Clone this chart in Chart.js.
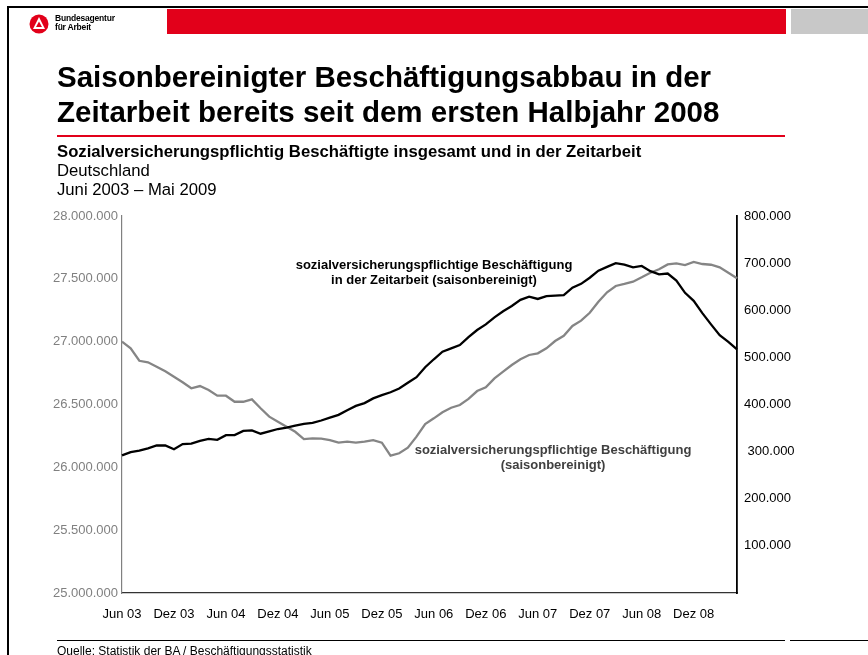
<!DOCTYPE html>
<html>
<head>
<meta charset="utf-8">
<script src="https://cdn.jsdelivr.net/npm/chart.js@4.4.1/dist/chart.umd.min.js"></script>
<style>
html,body{margin:0;padding:0;background:#fff;}
body{width:868px;height:655px;position:relative;overflow:hidden;font-family:"Liberation Sans",Arial,Helvetica,sans-serif;color:#000;}
.abs{position:absolute;white-space:nowrap;}
#c{position:absolute;left:0;top:0;}
.ann{position:absolute;width:420px;text-align:center;font-weight:bold;font-size:13px;line-height:14.5px;white-space:nowrap;}
</style>
</head>
<body>
<canvas id="c" width="868" height="655"></canvas>

<!-- frame and header -->
<div class="abs" style="left:7px;top:6px;width:861px;height:2px;background:#000"></div>
<div class="abs" style="left:7px;top:6px;width:2px;height:649px;background:#000"></div>
<div class="abs" style="left:167px;top:9px;width:619px;height:25px;background:#e2001a"></div>
<div class="abs" style="left:791px;top:9px;width:77px;height:25px;background:#c8c8c8"></div>
<svg class="abs" style="left:29px;top:14px" width="20" height="20" viewBox="0 0 20 20">
  <circle cx="10" cy="10" r="9.5" fill="#e2001a"/>
  <polygon points="10,3 16,15 4,15" fill="#fff"/>
  <polygon points="10,7.5 13,13 7,13" fill="#e2001a"/>
</svg>
<div class="abs" style="left:55px;top:14px;font-family:'Liberation Sans Narrow','Liberation Sans',Arial,sans-serif;font-weight:bold;font-size:8.5px;line-height:9px;letter-spacing:-0.2px">Bundesagentur<br>für Arbeit</div>

<!-- title -->
<div class="abs" style="left:57px;top:59px;font-weight:bold;font-size:29.5px;line-height:35px">Saisonbereinigter Beschäftigungsabbau in der<br>Zeitarbeit bereits seit dem ersten Halbjahr 2008</div>
<div class="abs" style="left:57px;top:135px;width:728px;height:1.5px;background:#e2001a"></div>
<div class="abs" style="left:57px;top:142px;font-size:16.7px;line-height:19px"><b>Sozialversicherungspflichtig Beschäftigte insgesamt und in der Zeitarbeit</b><br>Deutschland<br>Juni 2003 – Mai 2009</div>

<!-- annotations -->
<div class="ann" style="left:224px;top:258px;color:#000">sozialversicherungspflichtige Beschäftigung<br>in der Zeitarbeit (saisonbereinigt)</div>
<div class="ann" style="left:343px;top:443px;color:#404040">sozialversicherungspflichtige Beschäftigung<br>(saisonbereinigt)</div>

<!-- footer -->
<div class="abs" style="left:57px;top:640px;width:728px;height:1px;background:#000"></div>
<div class="abs" style="left:790px;top:640px;width:78px;height:1px;background:#000"></div>
<div class="abs" style="left:57px;top:644px;font-size:12px;line-height:14px">Quelle: Statistik der BA / Beschäftigungsstatistik</div>

<script>
// ---- data ----
const months = [
 "Jun 03","Jul 03","Aug 03","Sep 03","Okt 03","Nov 03","Dez 03","Jan 04","Feb 04","Mär 04","Apr 04","Mai 04",
 "Jun 04","Jul 04","Aug 04","Sep 04","Okt 04","Nov 04","Dez 04","Jan 05","Feb 05","Mär 05","Apr 05","Mai 05",
 "Jun 05","Jul 05","Aug 05","Sep 05","Okt 05","Nov 05","Dez 05","Jan 06","Feb 06","Mär 06","Apr 06","Mai 06",
 "Jun 06","Jul 06","Aug 06","Sep 06","Okt 06","Nov 06","Dez 06","Jan 07","Feb 07","Mär 07","Apr 07","Mai 07",
 "Jun 07","Jul 07","Aug 07","Sep 07","Okt 07","Nov 07","Dez 07","Jan 08","Feb 08","Mär 08","Apr 08","Mai 08",
 "Jun 08","Jul 08","Aug 08","Sep 08","Okt 08","Nov 08","Dez 08","Jan 09","Feb 09","Mär 09","Apr 09","Mai 09"
];
const zeitarbeit = [
 292000,299000,302000,307000,313000,313000,305000,316000,317000,323000,327000,325000,
 335000,335000,344000,345000,338000,343000,348000,351000,355000,359000,361000,366000,
 372000,378000,388000,397000,403000,413000,420000,426000,434000,446000,458000,479000,
 496000,512000,519000,526000,543000,558000,570000,585000,598000,609000,622000,629000,
 624000,630000,631000,632000,648000,656000,669000,684000,692000,700000,697000,691000,
 694000,683000,676000,678000,663000,637000,620000,594000,570000,547000,533000,517000
];
const insgesamt = [
 27000000,26947000,26848000,26836000,26801000,26764000,26721000,26677000,26629000,26647000,26615000,26570000,
 26570000,26522000,26522000,26541000,26470000,26403000,26363000,26323000,26283000,26225000,26231000,26228000,
 26217000,26196000,26204000,26196000,26204000,26217000,26196000,26093000,26112000,26156000,26244000,26345000,
 26390000,26438000,26474000,26496000,26544000,26607000,26637000,26708000,26761000,26814000,26860000,26894000,
 26907000,26947000,27005000,27047000,27125000,27167000,27230000,27318000,27393000,27443000,27459000,27477000,
 27512000,27549000,27576000,27615000,27623000,27610000,27634000,27618000,27612000,27592000,27549000,27504000
];
const leftTicks = [25000000,25500000,26000000,26500000,27000000,27500000,28000000];
const rightTicks = [0,100000,200000,300000,400000,500000,600000,700000,800000];

function de(n){ return String(Math.round(n)).replace(/\B(?=(\d{3})+(?!\d))/g,'.'); }

const FONT = {family:"'Liberation Sans', Arial, sans-serif", size:13};

new Chart(document.getElementById('c'), {
  type:'line',
  data:{
    labels: months,
    datasets:[
      {label:'Zeitarbeit', data:zeitarbeit, yAxisID:'y1', borderColor:'#000', borderWidth:2.3, pointRadius:0, tension:0, fill:false},
      {label:'insgesamt', data:insgesamt, yAxisID:'y', borderColor:'#858585', borderWidth:2.3, pointRadius:0, tension:0, fill:false}
    ]
  },
  options:{
    responsive:false, animation:false, devicePixelRatio:1,
    layout:{padding:{top:216,left:0,right:0,bottom:0}},
    plugins:{legend:{display:false}, tooltip:{enabled:false}, title:{display:false}},
    scales:{
      x:{
        type:'category', offset:false,
        grid:{display:false, drawTicks:false},
        border:{display:true, color:'#333', width:1.2},
        ticks:{autoSkip:false, maxRotation:0, minRotation:0, color:'#000', font:FONT, padding:14,
          callback:function(v, i){ return (i % 6 === 0) ? months[i] : ''; }},
        afterFit:function(s){ s.height = 62; }
      },
      y:{
        position:'left', min:leftTicks[0], max:leftTicks[leftTicks.length-1],
        afterBuildTicks:function(s){ s.ticks = leftTicks.map(v=>({value:v})); },
        grid:{display:false, drawTicks:false},
        border:{display:true, color:'#808080', width:1.2},
        ticks:{color:'#808080', font:FONT, padding:4, callback:function(v){ return de(v); }},
        afterFit:function(s){ s.width = 122; }
      },
      y1:{
        position:'right', min:rightTicks[0], max:rightTicks[rightTicks.length-1],
        afterBuildTicks:function(s){ s.ticks = rightTicks.map(v=>({value:v})); },
        grid:{display:false, drawTicks:false},
        border:{display:true, color:'#000', width:1.8},
        ticks:{color:'#000', font:FONT, padding:7, callback:function(v){
          if (v === 0) return '';
          if (v === 300000) return ' ' + de(v);
          return de(v); }},
        afterFit:function(s){ s.width = 131; }
      }
    }
  }
});
</script>
</body>
</html>
